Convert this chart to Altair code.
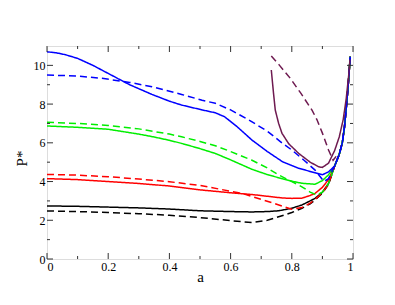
import altair as alt
import pandas as pd

# ---- data ----
common_a = [0.94, 0.955, 0.965, 0.972, 0.978, 0.984, 0.988, 0.991]
common_p = [4.8, 5.4, 6.0, 6.8, 7.8, 8.9, 9.8, 10.45]

black_solid_a = [0, 0.1, 0.2, 0.3, 0.4, 0.5, 0.6, 0.67, 0.72, 0.757, 0.8, 0.833, 0.86, 0.876, 0.9, 0.92]
black_solid_p = [2.74, 2.72, 2.68, 2.64, 2.58, 2.49, 2.45, 2.43, 2.45, 2.49, 2.62, 2.79, 3.0, 3.13, 3.45, 3.9]

black_dash_a = [0, 0.1, 0.2, 0.3, 0.4, 0.5, 0.6, 0.67, 0.72, 0.757, 0.8, 0.833, 0.86, 0.876, 0.9, 0.92]
black_dash_p = [2.48, 2.45, 2.40, 2.34, 2.26, 2.14, 1.98, 1.88, 2.0, 2.18, 2.4, 2.62, 2.85, 3.05, 3.4, 3.85]

red_solid_a = [0, 0.1, 0.2, 0.3, 0.4, 0.5, 0.6, 0.67, 0.72, 0.77, 0.8, 0.833, 0.86, 0.876, 0.9, 0.92]
red_solid_p = [4.15, 4.10, 4.0, 3.9, 3.77, 3.57, 3.42, 3.33, 3.24, 3.15, 3.13, 3.14, 3.28, 3.39, 3.7, 4.1]

red_dash_a = [0, 0.1, 0.2, 0.3, 0.4, 0.5, 0.6, 0.637, 0.7, 0.725, 0.8, 0.833, 0.86, 0.876, 0.9, 0.92]
red_dash_p = [4.37, 4.33, 4.25, 4.13, 3.99, 3.8, 3.5, 3.39, 3.08, 2.96, 2.57, 2.66, 2.88, 3.08, 3.42, 3.88]

green_solid_a = [0, 0.1, 0.2, 0.3, 0.35, 0.4, 0.44, 0.5, 0.55, 0.6, 0.67, 0.72, 0.77, 0.8, 0.833, 0.876, 0.9, 0.92]
green_solid_p = [6.87, 6.8, 6.7, 6.45, 6.3, 6.13, 5.97, 5.7, 5.45, 5.12, 4.63, 4.36, 4.14, 4.02, 3.91, 3.86, 4.05, 4.35]

green_dash_a = [0, 0.1, 0.2, 0.3, 0.4, 0.44, 0.5, 0.55, 0.6, 0.67, 0.72, 0.757, 0.8, 0.833, 0.86, 0.882, 0.9, 0.92]
green_dash_p = [7.06, 7.0, 6.9, 6.72, 6.45, 6.31, 6.07, 5.85, 5.55, 5.1, 4.7, 4.34, 4.0, 3.73, 3.45, 3.3, 3.45, 3.9]

blue_solid_a = [0, 0.03, 0.06, 0.1, 0.15, 0.21, 0.27, 0.343, 0.4, 0.44, 0.507, 0.55, 0.58, 0.62, 0.67, 0.72, 0.77, 0.82, 0.876, 0.9, 0.92]
blue_solid_p = [10.7, 10.65, 10.55, 10.36, 10.0, 9.5, 9.0, 8.5, 8.15, 7.95, 7.7, 7.55, 7.35, 6.85, 6.14, 5.55, 5.02, 4.7, 4.45, 4.35, 4.5]

blue_dash_a = [0, 0.1, 0.18, 0.27, 0.343, 0.44, 0.507, 0.55, 0.6, 0.66, 0.72, 0.77, 0.8, 0.84, 0.876, 0.905, 0.92]
blue_dash_p = [9.5, 9.45, 9.33, 9.12, 8.9, 8.5, 8.2, 8.04, 7.7, 7.18, 6.6, 5.97, 5.63, 5.1, 4.59, 4.0, 4.15]

maroon_solid_a = [0.733, 0.74, 0.746, 0.757, 0.768, 0.79, 0.822, 0.86, 0.888, 0.9, 0.92, 0.94, 0.955, 0.968, 0.978, 0.986, 0.99]
maroon_solid_p = [9.76, 8.6, 7.69, 7.0, 6.49, 5.95, 5.46, 5.0, 4.76, 4.73, 4.95, 5.6, 6.3, 7.2, 8.3, 9.5, 10.3]

maroon_dash_a = [0.733, 0.76, 0.795, 0.83, 0.866, 0.882, 0.9, 0.92, 0.935, 0.945]
maroon_dash_p = [10.48, 10.0, 9.33, 8.55, 7.69, 7.2, 6.5, 5.63, 5.1, 5.3]

x_ticks_major = [0, 0.2, 0.4, 0.6, 0.8, 1]
x_ticks_minor = [0.1, 0.3, 0.5, 0.7, 0.9]
y_ticks_major = [0, 2, 4, 6, 8, 10]
y_ticks_minor = [1, 3, 5, 7, 9]

series = [
    ("black_solid", "solid", black_solid_a, black_solid_p, True),
    ("black_dashed", "dashed", black_dash_a, black_dash_p, True),
    ("red_solid", "solid", red_solid_a, red_solid_p, True),
    ("red_dashed", "dashed", red_dash_a, red_dash_p, True),
    ("green_solid", "solid", green_solid_a, green_solid_p, True),
    ("green_dashed", "dashed", green_dash_a, green_dash_p, True),
    ("blue_solid", "solid", blue_solid_a, blue_solid_p, True),
    ("blue_dashed", "dashed", blue_dash_a, blue_dash_p, True),
    ("maroon_solid", "solid", maroon_solid_a, maroon_solid_p, False),
    ("maroon_dashed", "dashed", maroon_dash_a, maroon_dash_p, False),
]
colors = ["#000000", "#000000", "#ff0000", "#ff0000", "#00ee00", "#00ee00",
          "#0000ff", "#0000ff", "#6e1a50", "#6e1a50"]

rows = []
for name, kind, xs, ps, add_common in series:
    xa = list(xs) + (common_a if add_common else [])
    pa = list(ps) + (common_p if add_common else [])
    for i, (a, p) in enumerate(zip(xa, pa)):
        rows.append({"series": name, "kind": kind, "a": a, "P": p, "idx": i})
df = pd.DataFrame(rows)

W, H = 306, 213
FONT = "Liberation Serif"

xscale = alt.Scale(domain=[0, 1], nice=False, zero=False)
yscale = alt.Scale(domain=[0, 11], nice=False, zero=False)

lines = alt.Chart(df).mark_line(strokeWidth=1.5, strokeCap="butt").encode(
    x=alt.X("a:Q", scale=xscale, title="a",
            axis=alt.Axis(values=x_ticks_major, format="~g", ticks=False, domain=False,
                          grid=False, labelFont=FONT, labelFontSize=12, labelColor="#000",
                          labelPadding=2, titleFont=FONT, titleFontSize=15,
                          titleFontWeight="normal", titleColor="#000",
                          titleY=22, titleBaseline="alphabetic")),
    y=alt.Y("P:Q", scale=yscale, title="P*",
            axis=alt.Axis(values=y_ticks_major, format="d", ticks=False, domain=False,
                          grid=False, labelFont=FONT, labelFontSize=12, labelColor="#000",
                          labelPadding=2, titleFont=FONT, titleFontSize=15,
                          titleFontWeight="normal", titleColor="#000",
                          titleX=-21, titleY=112, titleBaseline="alphabetic")),
    color=alt.Color("series:N", scale=alt.Scale(domain=[s[0] for s in series], range=colors),
                    legend=None),
    strokeDash=alt.StrokeDash("kind:N", scale=alt.Scale(domain=["solid", "dashed"],
                                                        range=[[1, 0], [7, 4]]), legend=None),
    order="idx:Q",
)

def xt(vals, length, top):
    d = pd.DataFrame({"v": vals})
    if top:
        return alt.Chart(d).mark_rule(color="#333", strokeWidth=1).encode(
            x=alt.X("v:Q", scale=xscale), y=alt.value(0), y2=alt.value(length))
    return alt.Chart(d).mark_rule(color="#333", strokeWidth=1).encode(
        x=alt.X("v:Q", scale=xscale), y=alt.value(H), y2=alt.value(H - length))

def yt(vals, length, right):
    d = pd.DataFrame({"v": vals})
    if right:
        return alt.Chart(d).mark_rule(color="#333", strokeWidth=1).encode(
            y=alt.Y("v:Q", scale=yscale), x=alt.value(W), x2=alt.value(W - length))
    return alt.Chart(d).mark_rule(color="#333", strokeWidth=1).encode(
        y=alt.Y("v:Q", scale=yscale), x=alt.value(0), x2=alt.value(length))

ticks = [
    xt(x_ticks_major, 6, False), xt(x_ticks_minor, 3, False),
    xt(x_ticks_major, 6, True), xt(x_ticks_minor, 3, True),
    yt(y_ticks_major, 6, False), yt(y_ticks_minor, 3, False),
    yt(y_ticks_major, 6, True), yt(y_ticks_minor, 3, True),
]

chart = alt.layer(lines, *ticks).properties(
    width=W, height=H,
    autosize=alt.AutoSizeParams(type="none"),
    padding={"left": 39, "top": 38, "right": 25, "bottom": 30},
).configure_view(stroke="#333", strokeWidth=1.5).configure(background="white")

chart.save("out.html", embed_options={"renderer": "svg", "actions": False})
